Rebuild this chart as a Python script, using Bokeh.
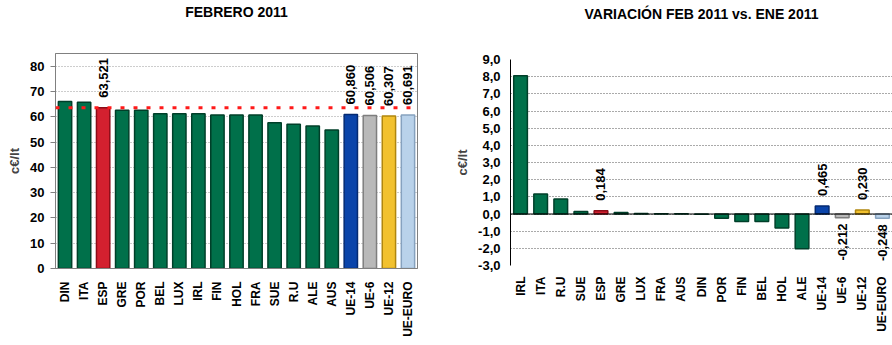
from bokeh.plotting import figure
from bokeh.models import ColumnDataSource, Span, FixedTicker, FactorRange, Range1d, Title
from bokeh.layouts import row
from bokeh.embed import file_html
from bokeh.resources import INLINE
from bokeh.core.properties import value

# ---------------- data ----------------
cats_feb = ["DIN", "ITA", "ESP", "GRE", "POR", "BEL", "LUX", "IRL", "FIN", "HOL",
            "FRA", "SUE", "R.U", "ALE", "AUS", "UE-14", "UE-6", "UE-12", "UE-EURO"]
vals_feb = [66.0, 65.7, 63.521, 62.6, 62.6, 61.2, 61.2, 61.2, 60.7, 60.7,
            60.7, 57.6, 57.0, 56.3, 54.8, 60.860, 60.506, 60.307, 60.691]
labels_feb = ["", "", "63,521", "", "", "", "", "", "", "",
              "", "", "", "", "", "60,860", "60,506", "60,307", "60,691"]
ref_value_esp = 63.521

cats_var = ["IRL", "ITA", "R.U", "SUE", "ESP", "GRE", "LUX", "FRA", "AUS", "DIN",
            "POR", "FIN", "BEL", "HOL", "ALE", "UE-14", "UE-6", "UE-12", "UE-EURO"]
vals_var = [8.06, 1.16, 0.87, 0.15, 0.184, 0.09, 0.03, 0.02, 0.01, -0.02,
            -0.25, -0.43, -0.43, -0.81, -2.02, 0.465, -0.212, 0.230, -0.248]
labels_var = ["", "", "", "", "0,184", "", "", "", "", "",
              "", "", "", "", "", "0,465", "-0,212", "0,230", "-0,248"]

yticks_feb = [0, 10, 20, 30, 40, 50, 60, 70, 80]
yticks_var = [-3, -2, -1, 0, 1, 2, 3, 4, 5, 6, 7, 8, 9]
yticklabels_var = ["-3,0", "-2,0", "-1,0", "0,0", "1,0", "2,0", "3,0", "4,0",
                   "5,0", "6,0", "7,0", "8,0", "9,0"]

title_feb = "FEBRERO 2011"
title_var = "VARIACIÓN FEB 2011 vs. ENE 2011"
unit_label = "c€/lt"

# ---------------- styles ----------------
FONT = "Liberation Sans"
special_fill = {"ESP": "#D3202F", "UE-14": "#0A44AA", "UE-6": "#B9B9B9",
                "UE-12": "#F2C12E", "UE-EURO": "#B9D2EA"}
special_line = {"ESP": "#8C0C18", "UE-14": "#042A72", "UE-6": "#7E7E7E",
                "UE-12": "#B0860E", "UE-EURO": "#86A2BF"}
GREEN = "#00704A"
GREEN_LINE = "#003F29"


def colors(cats):
    f = [special_fill.get(c, GREEN) for c in cats]
    l = [special_line.get(c, GREEN_LINE) for c in cats]
    return f, l


def style_common(p):
    for ax in (p.xaxis[0], p.yaxis[0]):
        ax.major_label_text_font = FONT
        ax.major_label_text_font_style = "bold"
        ax.major_label_text_color = "#000000"
        ax.axis_label_text_font = FONT
        ax.axis_label_text_font_style = "bold"
        ax.axis_label_text_font_size = "13px"
        ax.minor_tick_line_color = None
    p.xaxis.major_label_orientation = 1.5708
    p.xaxis.major_label_text_font_size = "12px"
    p.yaxis.major_label_text_font_size = "13px"
    p.xgrid.grid_line_color = None
    p.background_fill_color = "white"
    p.border_fill_color = "white"


def add_title(p, text, gap, offset=0):
    # spacer between the frame and the title, then the title itself
    p.add_layout(Title(text=" ", text_font_size="1px", standoff=gap), "above")
    p.add_layout(Title(text=text, text_font=FONT, text_font_size="14px",
                       text_font_style="bold", text_color="#000000",
                       align="center", offset=offset, standoff=0), "above")


# ---------------- left chart ----------------
H = 344
fill_f, line_f = colors(cats_feb)
src_feb = ColumnDataSource(dict(cat=cats_feb, val=vals_feb, lab=labels_feb,
                                fill=fill_f, line=line_f))

p1 = figure(width=440, height=H, output_backend="svg", toolbar_location=None,
            x_range=FactorRange(*cats_feb, range_padding=0),
            y_range=Range1d(0, 85), frame_align=False,
            min_border_left=55, min_border_right=23, min_border_top=53,
            min_border_bottom=76)
style_common(p1)
add_title(p1, title_feb, 31, offset=-14)
p1.vbar(x="cat", top="val", width=0.7, source=src_feb, fill_color="fill",
        line_color="line", line_width=1.5)
p1.add_layout(Span(location=ref_value_esp, dimension="width", line_color="#FF1A1A",
                   line_dash="4 9", line_width=3))
p1.text(x="cat", y="val", text="lab", source=src_feb, angle=1.5708,
        text_align="left", text_baseline="middle", x_offset=0, y_offset=-10,
        text_font=value(FONT), text_font_style="bold", text_font_size="13px",
        text_color="#000000")
p1.yaxis.ticker = FixedTicker(ticks=yticks_feb)
p1.yaxis.axis_label = unit_label
p1.yaxis.major_tick_out = 5
p1.yaxis.major_tick_in = 0
p1.yaxis.major_label_standoff = 6
p1.yaxis.axis_label_standoff = 5
p1.yaxis.axis_line_color = "#808080"
p1.yaxis.major_tick_line_color = "#808080"
p1.xaxis.axis_line_color = "#808080"
p1.xaxis.major_tick_line_color = None
p1.xaxis.major_label_standoff = 7
p1.ygrid.grid_line_color = "#9A9A9A"
p1.ygrid.grid_line_dash = "1 2"
p1.outline_line_color = "#808080"

# ---------------- right chart ----------------
fill_v, line_v = colors(cats_var)
src_var = ColumnDataSource(dict(cat=cats_var, val=vals_var, lab=labels_var,
                                fill=fill_v, line=line_v,
                                align=["right" if v < 0 else "left" for v in vals_var],
                                off=[6 if v < 0 else -10 for v in vals_var]))

p2 = figure(width=452, height=H, output_backend="svg", toolbar_location=None,
            x_range=FactorRange(*cats_var, range_padding=0),
            y_range=Range1d(-3, 9), frame_align=False,
            min_border_left=70, min_border_right=0, min_border_top=59,
            min_border_bottom=79)
style_common(p2)
add_title(p2, title_var, 35)
p2.vbar(x="cat", top="val", width=0.68, source=src_var, fill_color="fill",
        line_color="line", line_width=1.5)
p2.add_layout(Span(location=0, dimension="width", line_color="#000000", line_width=1.2))
p2.text(x="cat", y="val", text="lab", source=src_var, angle=1.5708,
        text_align="align", text_baseline="middle", y_offset="off",
        text_font=value(FONT), text_font_style="bold", text_font_size="13px",
        text_color="#000000")
p2.yaxis.ticker = FixedTicker(ticks=yticks_var)
p2.yaxis.major_label_overrides = {t: s for t, s in zip(yticks_var, yticklabels_var)}
p2.yaxis.axis_label = unit_label
p2.yaxis.major_tick_out = 0
p2.yaxis.major_tick_in = 0
p2.yaxis.major_label_standoff = 10
p2.yaxis.axis_label_standoff = 5
p2.yaxis.axis_line_color = "#000000"
p2.xaxis.axis_line_color = None
p2.xaxis.major_tick_line_color = None
p2.xaxis.major_label_standoff = 5
p2.ygrid.grid_line_color = "#555555"
p2.ygrid.grid_line_dash = "1 2"
p2.outline_line_color = None

layout = row(p1, p2)
open("out.html", "w").write(file_html(layout, INLINE))
